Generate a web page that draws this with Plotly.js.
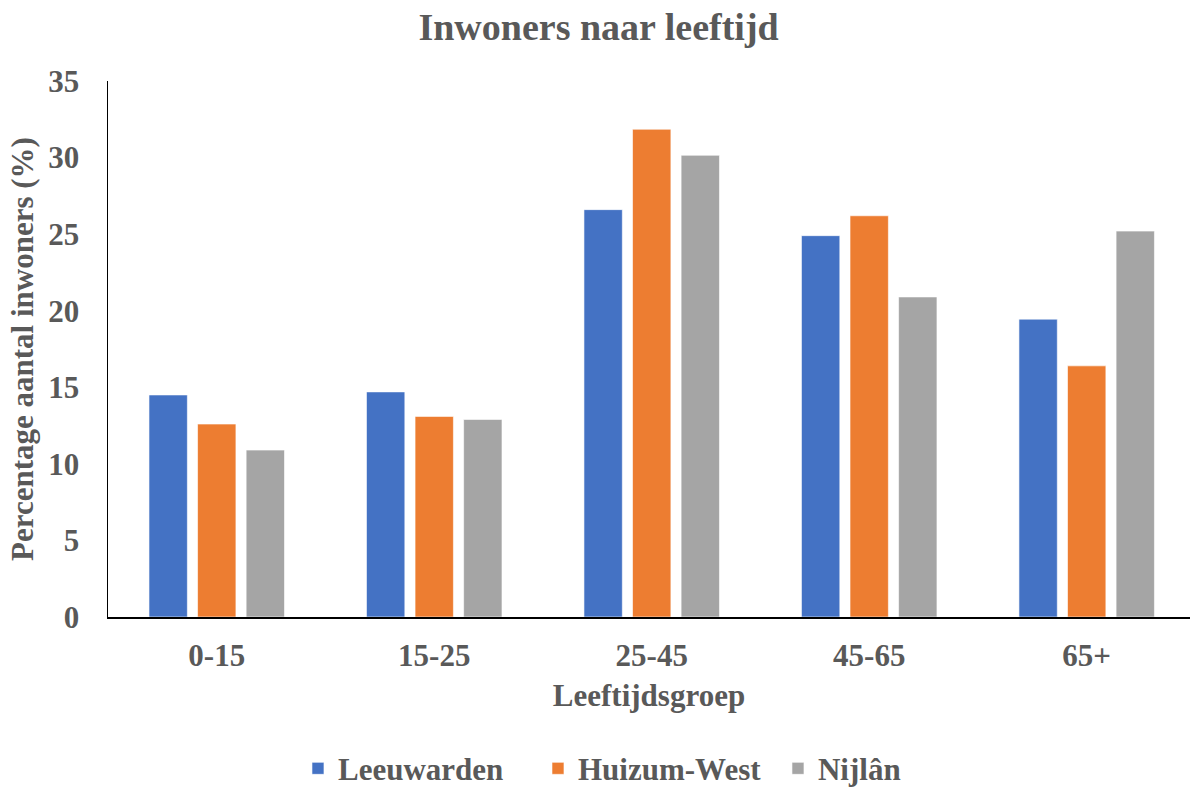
<!DOCTYPE html>
<html>
<head>
<meta charset="utf-8">
<script src="https://cdn.plot.ly/plotly-3.0.1.min.js"></script>
<style>html,body{margin:0;padding:0;background:#fff;}#chart{width:1190px;height:789px;}</style>
</head>
<body>
<div id="chart"></div>
<script>
const categories = ["0-15", "15-25", "25-45", "45-65", "65+"];
const leeuwarden = [14.5, 14.7, 26.6, 24.9, 19.45];
const huizumWest = [12.6, 13.1, 31.85, 26.2, 16.4];
const nijlan = [10.9, 12.9, 30.15, 20.9, 25.2];
const seriesNames = ["Leeuwarden", "Huizum-West", "Nijlân"];
const seriesColors = ["#4472C4", "#ED7D31", "#A5A5A5"];
const yTicks = [0, 5, 10, 15, 20, 25, 30, 35];

const FONT = "Liberation Serif, 'Times New Roman', serif";
const TXT = "#595959";

const values = [leeuwarden, huizumWest, nijlan];
const data = values.map((v, i) => ({
  type: "bar",
  x: categories,
  y: v,
  name: seriesNames[i],
  marker: {color: seriesColors[i], line: {color: "rgba(255,255,255,0.6)", width: 1}},
  hoverinfo: "x+y+name"
}));

const layout = {
  width: 1190, height: 789,
  paper_bgcolor: "#fff", plot_bgcolor: "#fff",
  margin: {l: 108, r: 0, t: 81, b: 172, autoexpand: false},
  font: {family: FONT, color: TXT},
  barmode: "group",
  bargap: 0.33,
  bargroupgap: 0.21,
  title: {
    text: "<b>Inwoners naar leeftijd</b>",
    font: {family: FONT, size: 38, color: TXT},
    xref: "container", yref: "container", x: 0.503, y: 0.966,
    xanchor: "center", yanchor: "middle"
  },
  xaxis: {
    type: "category",
    range: [-0.5, 4.475],
    showline: true, linecolor: "#000", linewidth: 1.5,
    showgrid: false, zeroline: false, ticks: "",
    ticklabelstandoff: 10,
    tickfont: {family: FONT, size: 31, color: TXT, weight: "bold"},
    title: {text: "<b>Leeftijdsgroep</b>", font: {family: FONT, size: 31, color: TXT}, standoff: 12},
    automargin: false,
    fixedrange: true
  },
  yaxis: {
    range: [0, 35],
    tickvals: yTicks,
    ticktext: yTicks.map(String),
    showline: true, linecolor: "#000", linewidth: 1.5,
    showgrid: false, zeroline: false, ticks: "",
    ticklabelstandoff: 21,
    tickfont: {family: FONT, size: 31, color: TXT, weight: "bold"},
    title: {text: "<b>Percentage aantal inwoners (%)</b>", font: {family: FONT, size: 31, color: TXT}, standoff: 5},
    automargin: false,
    fixedrange: true
  },
  showlegend: true,
  legend: {
    orientation: "h",
    xref: "paper", x: 0.5083, xanchor: "center",
    y: -0.283, yanchor: "middle",
    font: {family: FONT, size: 31, color: TXT, weight: "bold"},
    entrywidth: 195, entrywidthmode: "pixels",
    tracegroupgap: 0,
    traceorder: "normal"
  }
};

Plotly.newPlot("chart", data, layout, {displayModeBar: false, staticPlot: true});
</script>
</body>
</html>
